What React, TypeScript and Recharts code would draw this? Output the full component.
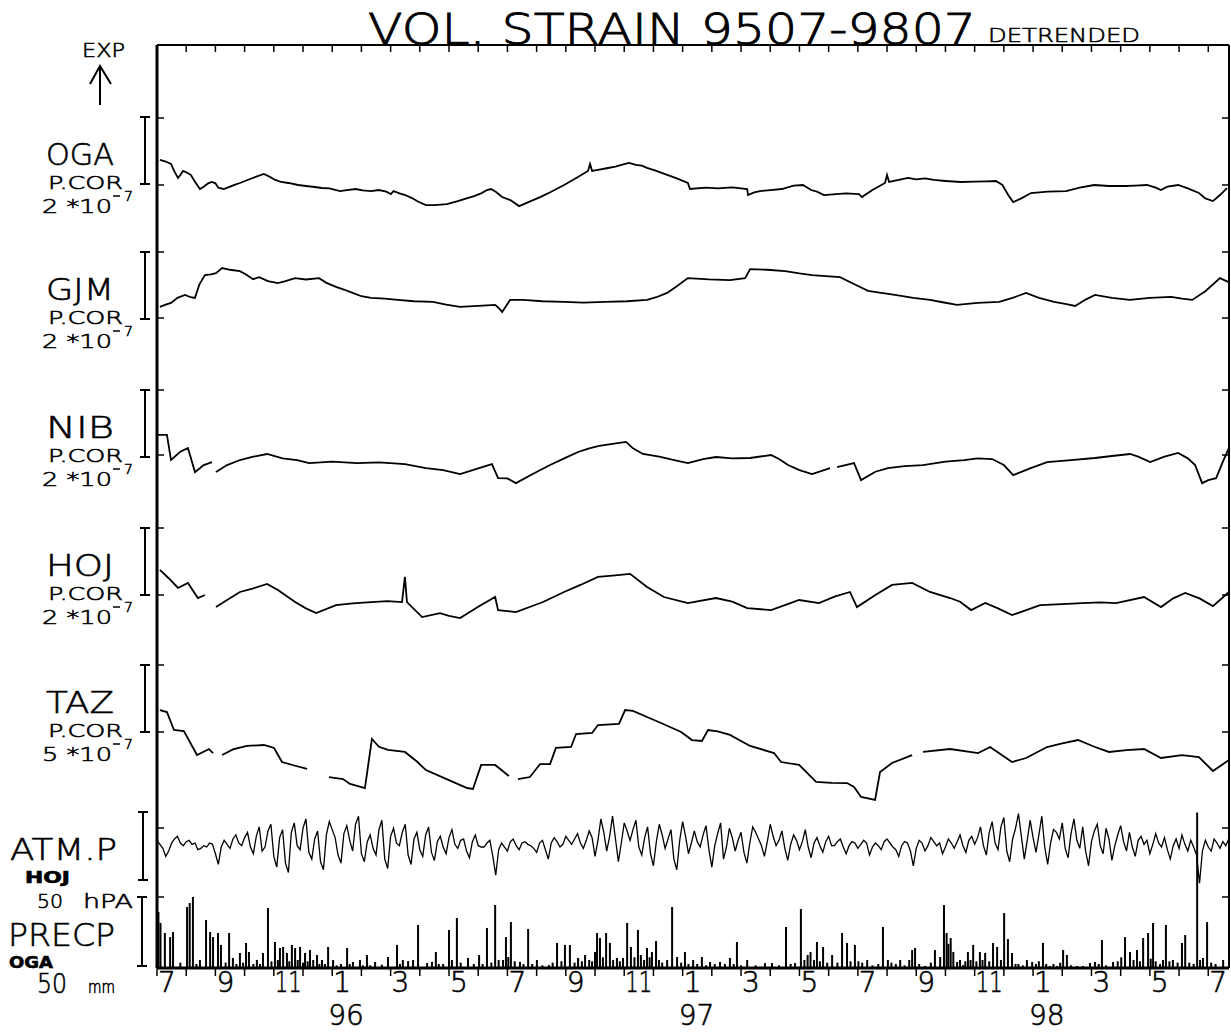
import React from "react";
import { ComposedChart, Line, Bar, XAxis, YAxis } from "recharts";

// x = months since 1 Jul 1995
const monthTicks = [
  0, 1, 2, 3, 4, 5, 6, 7, 8, 9, 10, 11, 12, 13, 14, 15, 16, 17, 18, 19, 20, 21, 22, 23, 24, 25, 26, 27,
  28, 29, 30, 31, 32, 33, 34, 35, 36,
];
const monthLabels = [
  "7", "", "9", "", "11", "", "1", "", "3", "", "5", "", "7", "", "9", "", "11", "", "1", "", "3", "",
  "5", "", "7", "", "9", "", "11", "", "1", "", "3", "", "5", "", "7",
];
const yearTicks = [6, 18, 30];
const yearLabels = ["96", "97", "98"];

// volumetric strain, 1e-7 (null = gap in record)
const oga: [number, number | null][] = [
  [0.1, 0.75], [0.3, 0.7], [0.48, 0.63], [0.6, 0.4], [0.72, 0.21], [0.8, 0.3], [0.89, 0.42], [1.0, 0.38],
  [1.16, 0.3], [1.3, 0.1], [1.47, -0.12], [1.6, -0.05], [1.75, 0.05], [1.88, 0.09], [2.0, 0.05],
  [2.1, -0.08], [2.29, -0.12], [2.5, -0.05], [2.7, 0.02], [2.84, 0.06], [3.1, 0.15], [3.4, 0.25],
  [3.66, 0.33], [3.85, 0.25], [4.05, 0.15], [4.25, 0.09], [4.5, 0.06], [4.83, 0], [5.1, -0.03],
  [5.4, -0.06], [5.65, -0.09], [5.9, -0.1], [6.27, -0.18], [6.5, -0.15], [6.8, -0.12], [7.05, -0.16],
  [7.33, -0.18], [7.6, -0.15], [7.85, -0.2], [8.01, -0.27], [8.1, -0.18], [8.3, -0.25], [8.5, -0.3],
  [8.73, -0.39], [8.95, -0.5], [9.21, -0.6], [9.5, -0.6], [9.93, -0.57], [10.3, -0.48], [10.6, -0.4],
  [10.86, -0.33], [11.1, -0.25], [11.3, -0.15], [11.44, -0.12], [11.6, -0.2], [11.82, -0.36], [12.1, -0.45],
  [12.4, -0.63], [12.7, -0.52], [13.12, -0.36], [13.5, -0.2], [13.94, 0], [14.3, 0.18], [14.76, 0.42],
  [14.83, 0.63], [14.9, 0.42], [15.1, 0.45], [15.4, 0.5], [15.7, 0.55], [16.0, 0.62], [16.16, 0.66],
  [16.4, 0.6], [16.6, 0.58], [16.78, 0.51], [17.1, 0.42], [17.47, 0.3], [17.8, 0.2], [18.18, 0.06],
  [18.25, -0.12], [18.8, -0.08], [19.2, -0.1], [19.7, -0.07], [20.21, -0.12], [20.24, -0.3], [20.45, -0.22],
  [20.65, -0.18], [21.0, -0.15], [21.4, -0.12], [21.8, -0.02], [22.12, 0], [22.4, -0.15], [22.6, -0.2],
  [22.84, -0.3], [23.25, -0.27], [23.6, -0.25], [24.04, -0.27], [24.14, -0.36], [24.5, -0.15],
  [24.93, 0.06], [25.0, 0.3], [25.07, 0.09], [25.4, 0.15], [25.72, 0.21], [26.0, 0.17], [26.3, 0.2],
  [26.6, 0.15], [27.0, 0.12], [27.53, 0.09], [28.0, 0.1], [28.4, 0.11], [28.73, 0.12], [28.95, 0],
  [29.15, -0.3], [29.32, -0.51], [29.6, -0.4], [29.93, -0.24], [30.5, -0.2], [31.13, -0.18], [31.6, -0.08],
  [32.09, 0], [32.6, -0.03], [33.18, -0.03], [33.5, -0.02], [33.9, 0], [34.2, -0.08], [34.38, -0.15],
  [34.6, -0.05], [34.97, 0], [35.3, -0.1], [35.68, -0.24], [35.9, -0.4], [36.16, -0.48], [36.4, -0.3],
  [36.64, -0.09],
];

const gjm: [number, number | null][] = [
  [0.1, 0.33], [0.3, 0.4], [0.48, 0.45], [0.7, 0.6], [0.96, 0.69], [1.15, 0.62], [1.3, 0.6], [1.45, 1.0],
  [1.64, 1.28], [1.85, 1.3], [2.02, 1.34], [2.23, 1.49], [2.5, 1.44], [2.84, 1.4], [3.05, 1.3],
  [3.29, 1.16], [3.5, 1.22], [3.8, 1.1], [4.14, 1.04], [4.4, 1.1], [4.73, 1.19], [5.1, 1.15], [5.55, 1.19],
  [5.8, 1.05], [6.13, 0.93], [6.4, 0.85], [6.7, 0.75], [7.0, 0.65], [7.33, 0.6], [7.8, 0.58], [8.25, 0.54],
  [8.8, 0.5], [9.45, 0.48], [9.9, 0.4], [10.38, 0.33], [11.0, 0.36], [11.58, 0.39], [11.7, 0.3],
  [11.82, 0.18], [12.09, 0.54], [12.53, 0.54], [13.2, 0.5], [13.94, 0.48], [14.6, 0.46], [15.34, 0.48],
  [16.1, 0.5], [16.78, 0.54], [17.1, 0.62], [17.47, 0.75], [17.8, 0.95], [18.18, 1.19], [18.9, 1.15],
  [19.62, 1.13], [20.14, 1.19], [20.31, 1.46], [20.9, 1.44], [21.51, 1.4], [22.0, 1.33], [22.43, 1.28],
  [22.9, 1.25], [23.39, 1.22], [23.9, 1.0], [24.35, 0.81], [24.8, 0.75], [25.27, 0.69], [25.9, 0.6],
  [26.47, 0.54], [26.9, 0.47], [27.4, 0.39], [28.1, 0.45], [28.84, 0.48], [29.3, 0.6], [29.76, 0.75],
  [30.2, 0.6], [30.72, 0.48], [31.1, 0.42], [31.44, 0.36], [31.8, 0.55], [32.12, 0.69], [32.7, 0.6],
  [33.32, 0.54], [34.0, 0.6], [34.73, 0.63], [35.1, 0.58], [35.45, 0.54], [35.9, 0.8], [36.4, 1.19],
  [36.7, 1.07],
];

const nib: [number, number | null][] = [
  [0.02, 0.6], [0.34, 0.6], [0.48, -0.15], [0.8, 0.1], [1.06, 0.21], [1.3, -0.51], [1.6, -0.3],
  [1.88, -0.21], [1.95, null], [2.02, -0.51], [2.4, -0.3], [2.84, -0.15], [3.3, -0.05], [3.77, 0.03],
  [4.3, -0.1], [4.8, -0.15], [5.21, -0.24], [6.0, -0.2], [6.85, -0.24], [7.6, -0.22], [8.49, -0.27],
  [9.21, -0.39], [9.8, -0.45], [10.38, -0.57], [11.0, -0.4], [11.47, -0.27], [11.68, -0.69], [12.0, -0.7],
  [12.29, -0.84], [12.9, -0.55], [13.46, -0.3], [14.0, -0.08], [14.42, 0.09], [14.8, 0.2], [15.14, 0.27],
  [15.6, 0.33], [16.06, 0.39], [16.3, 0.2], [16.64, 0.03], [17.2, -0.05], [17.71, -0.15], [18.18, -0.24],
  [18.7, -0.12], [19.14, -0.06], [19.7, -0.1], [20.31, -0.09], [21.03, 0], [21.3, -0.12], [21.61, -0.3],
  [22.0, -0.45], [22.43, -0.57], [23.05, -0.39], [23.17, null], [23.29, -0.36], [23.87, -0.24],
  [24.11, -0.75], [24.6, -0.5], [25.03, -0.39], [25.6, -0.33], [26.23, -0.3], [27.0, -0.2], [27.64, -0.15],
  [28.1, -0.1], [28.6, -0.12], [29.0, -0.3], [29.32, -0.6], [29.9, -0.4], [30.48, -0.21], [31.3, -0.15],
  [32.12, -0.09], [32.7, -0.03], [33.32, 0.03], [33.6, -0.05], [34.01, -0.21], [34.5, -0.05],
  [34.97, 0.06], [35.3, -0.1], [35.55, -0.3], [35.79, -0.84], [36.0, -0.75], [36.27, -0.69], [36.5, -0.2],
  [36.71, 0.21],
];

const hoj: [number, number | null][] = [
  [0.1, 0.75], [0.4, 0.5], [0.72, 0.21], [1.06, 0.36], [1.4, -0.09], [1.64, 0], [1.83, null],
  [2.02, -0.36], [2.4, -0.15], [2.84, 0.09], [3.3, 0.2], [3.77, 0.33], [4.14, 0.15], [4.73, -0.21],
  [5.1, -0.4], [5.45, -0.54], [6.13, -0.3], [6.7, -0.25], [7.33, -0.21], [7.9, -0.18], [8.39, -0.21],
  [8.49, 0.54], [8.56, -0.21], [9.08, -0.66], [9.69, -0.54], [10.0, -0.62], [10.38, -0.69], [11.0, -0.35],
  [11.58, -0.06], [11.68, -0.45], [12.29, -0.51], [13.22, -0.21], [13.94, 0.09], [14.5, 0.3], [15.1, 0.54],
  [15.6, 0.58], [16.2, 0.63], [16.78, 0.24], [17.36, -0.06], [18.18, -0.24], [19.14, -0.09], [19.7, -0.2],
  [20.21, -0.39], [21.03, -0.45], [21.5, -0.3], [21.99, -0.15], [22.67, -0.24], [23.2, -0.05],
  [23.73, 0.09], [23.97, -0.36], [24.6, 0.0], [25.17, 0.3], [25.86, 0.36], [26.47, 0.09], [27.16, -0.09],
  [27.5, -0.2], [27.88, -0.45], [28.36, -0.24], [28.8, -0.4], [29.28, -0.6], [30.24, -0.3], [31.0, -0.27],
  [31.68, -0.24], [32.3, -0.22], [32.84, -0.24], [33.8, -0.06], [34.38, -0.36], [34.8, -0.1],
  [35.21, 0.06], [35.7, -0.1], [36.16, -0.33], [36.71, 0.09],
];

const taz: [number, number | null][] = [
  [0.1, 1.64], [0.34, 1.49], [0.58, 0.15], [0.92, 0.07], [1.37, -1.72], [1.78, -1.27], [1.92, -1.57],
  [2.05, null], [2.23, -1.72], [2.6, -1.3], [3.08, -1.04], [3.66, -0.97], [4.01, -1.19], [4.28, -2.24],
  [4.7, -2.5], [5.14, -2.76], [5.5, null], [5.89, -3.36], [6.37, -3.51], [6.61, -3.88], [7.12, -4.18],
  [7.36, -0.52], [7.6, -1.1], [7.91, -1.34], [8.49, -1.49], [8.9, -2.2], [9.21, -2.84], [9.9, -3.5],
  [10.62, -4.18], [10.82, -4.25], [11.1, -2.46], [11.58, -2.46], [12.05, -3.28], [12.2, null],
  [12.36, -3.51], [12.77, -3.36], [13.12, -2.39], [13.46, -2.39], [13.66, -1.19], [14.18, -1.12],
  [14.35, -0.15], [14.9, -0.07], [15.1, 0.52], [15.82, 0.6], [16.03, 1.64], [16.3, 1.57], [16.8, 1.1],
  [17.26, 0.67], [17.95, 0], [18.32, -0.6], [18.66, -0.67], [18.87, 0.15], [19.2, 0.05], [19.62, -0.22],
  [20.31, -1.04], [21.13, -1.57], [21.37, -2.24], [21.99, -2.46], [22.57, -3.73], [23.1, -3.8],
  [23.63, -3.81], [23.87, -4.1], [24.11, -4.85], [24.59, -5.07], [24.76, -2.99], [25.17, -2.31],
  [25.86, -1.72], [26.05, null], [26.23, -1.49], [27.16, -1.27], [28.12, -1.57], [28.53, -1.12],
  [29.28, -2.24], [29.76, -1.94], [30.48, -1.12], [31.0, -0.85], [31.54, -0.6], [32.1, -1.1],
  [32.6, -1.49], [33.2, -1.35], [33.8, -1.27], [34.38, -1.94], [35.1, -1.72], [35.68, -1.87],
  [36.16, -2.91], [36.71, -2.09],
];

// HOJ atmospheric pressure, hPa deviation, one value every 0.1 month
const atmStep = 0.1;
const atmValues = [
  2, -1, -4, -10, -6, 0, 3, 5, 0, -2, 1, 2, -1, 0, -5, -4, -2, -3, 0, -1, -8, -16, -3, 2, -1, -4, 3,
  6, 0, -2, 4, 8, -3, -8,
  5, 12, -6, -3, 9, 14, -10, -18, 4, 10, -15, -22, 8, 15, -2, -5, 11, 18, -7, -12, 3, 9, -14, -20, 6,
  16, 10, 4, -9, -15, 7, 13, 2, -6, 14, 20, -8, -14, 1, 6, -4, -9, 10, 17, -12, -19, 5, 11, 0, -2, 8,
  14, -9, -16, 3, 8, -5, -10, 6, 12, -7, -13, 1, 5, -3, -8, 4, 10, -1, -4, 2, 3, -6, -11, 1, 6, -2, -3,
  -3, 0, 2, -10, -24, -5, 0, -3, -6, 1, 3, -2, -5, 0, 1, -1, -2, -4, -7, 0, 2, -5, -12, 0, 4, 1, -3,
  -1, 5, 2, -1, 3, 7, 0, -4, 2, 9, 4,
  -10, 2, 18, 8, -6, 5, 20, 3, -14, 0, 15, 9, 2, 10, 17, -3, -9, 4, 12, -8, -17, 1, 14, 6, -4, 3, 10,
  -12, -20, 2, 16, 5, -8, 0, 9, 1, -3, 6, 13, -5, -18, -2, 7, 15, -12, -3, 11, 4, -6, 2, 8, -7, -15,
  0, 12, 8, 3, -2, -10, 1, 14, 5, -2, 2, 9, -4, -13, -1, 6, 2, -5, 1, 10, -3, -11, 0, 4, -2, -7, 1, 5,
  -2,
  -2, 1, 3, -3, -8, -2, 1, 0, -4, -1, 2, 0, -9, -3, 0, -2, -5, 1, 3, 0, -3, -5, -10, -2, 1, 0, -6, -17,
  -4, 2, 0, -6, -2, 4, 1, -2, 0, -8, -3, 3, 0, -4, 1, 6, -2, -7, 2, 5, -1,
  4, 12, -2, -9, 8, 16, 0, -5, 12, 19, -6, -14, 3, 11, 22, 5, -12, 2, 17, 4, -7, 6, 20, -3, -16, 0, 10,
  8, 3, 15, -4, -11, 7, 18, 2, -4, 12, -6, -17, 1, 9, 14, -2, -8, 11, 3, -13, -2, 6, 13, 1, -6, 8, -3,
  -10, 2, 5, -1, 2, -8, -1, 7, 0, -3, 4, -5, -12, -2, 3, -4, 6, -1, -6, 2, -3, -9, -30, -6, 2, -3, -6,
  3, 0, -4, 1, -2, 3,
];

// OGA daily precipitation, mm
const precp: [number, number][] = [
  [0.05, 41.8], [0.12, 33.6], [0.27, 26.1], [0.45, 23.1], [0.55, 26.9], [0.8, 4], [1.03, 45.5],
  [1.12, 48.5], [1.23, 53], [1.35, 3], [1.47, 6], [1.68, 35.8], [1.82, 26.9], [1.92, 23.1], [2.09, 26.1],
  [2.19, 17.2], [2.35, 4], [2.47, 26.1], [2.6, 7.5], [2.72, 3], [2.84, 11.2], [2.95, 4], [3.05, 18.7],
  [3.15, 11.9], [3.3, 3], [3.42, 6], [3.53, 3], [3.63, 11.2], [3.8, 44.8], [3.92, 5], [4.04, 19.4],
  [4.14, 6], [4.21, 14.9], [4.32, 15.7], [4.45, 11.2], [4.53, 5], [4.62, 17.2], [4.73, 14.9], [4.82, 6],
  [4.9, 15.7], [5.0, 4], [5.07, 11.2], [5.16, 5], [5.24, 13.4], [5.35, 6], [5.48, 9.7], [5.56, 3],
  [5.65, 6], [5.75, 3], [5.86, 15.7], [6.03, 6], [6.15, 2], [6.3, 3], [6.51, 14.9], [6.6, 3],
  [6.71, 4.5], [6.95, 6], [7.05, 2], [7.19, 9.7], [7.3, 2], [7.47, 4.5], [7.7, 2.5], [7.91, 8.2],
  [8.22, 17.2], [8.32, 3], [8.42, 6], [8.6, 5.2], [8.77, 6], [8.94, 32.1], [9.25, 3.7], [9.42, 4.5],
  [9.55, 11.9], [9.65, 3], [9.8, 3], [10.0, 28.4], [10.1, 6], [10.27, 37.3], [10.4, 4], [10.65, 7.5],
  [10.85, 3], [11.03, 9.7], [11.15, 3], [11.3, 29.9], [11.45, 4], [11.58, 47], [11.7, 6], [11.85, 6],
  [11.95, 23.1], [12.03, 8.2], [12.12, 34.3], [12.25, 5], [12.43, 4.5], [12.55, 3], [12.71, 29.1],
  [12.85, 3], [13.01, 6], [13.2, 2], [13.42, 2.2], [13.55, 4], [13.7, 18.7], [13.85, 5], [13.97, 17.2],
  [14.14, 17.2], [14.3, 4], [14.42, 7.5], [14.55, 5], [14.66, 9.7], [14.8, 6], [14.9, 5], [15.0, 12],
  [15.07, 26.1], [15.17, 22.4], [15.27, 8], [15.38, 26.1], [15.51, 18.7], [15.62, 6], [15.75, 7.5],
  [15.85, 5], [15.96, 7.5], [16.1, 33.6], [16.23, 15.7], [16.35, 8], [16.47, 28.4], [16.57, 9.7],
  [16.68, 6], [16.78, 14.9], [16.87, 8], [16.95, 11.9], [17.09, 20.1], [17.19, 6], [17.3, 4],
  [17.47, 6], [17.64, 45.5], [17.81, 8.2], [17.95, 4], [18.08, 11.9], [18.2, 3], [18.36, 6], [18.5, 3],
  [18.66, 8.2], [18.8, 2], [18.94, 4.5], [19.1, 3], [19.28, 4.5], [19.45, 3], [19.62, 7.5], [19.75, 3],
  [19.86, 19.4], [20.0, 2], [20.21, 6], [20.5, 2], [20.82, 3.7], [21.06, 3.7], [21.3, 2], [21.54, 30.6],
  [21.7, 3], [21.85, 3.7], [22.05, 44], [22.17, 6], [22.28, 9.7], [22.38, 11.9], [22.5, 6], [22.6, 19.4],
  [22.7, 5], [22.81, 15.7], [22.95, 4], [23.12, 9.7], [23.3, 4], [23.46, 26.1], [23.63, 18.7],
  [23.75, 5], [23.9, 17.2], [24.02, 5], [24.15, 4], [24.32, 6], [24.5, 2], [24.7, 3], [24.86, 30.6],
  [25.03, 6], [25.15, 4], [25.3, 3], [25.45, 6], [25.6, 2], [25.76, 6], [25.86, 13.4], [25.96, 14.9],
  [26.1, 3], [26.3, 1.5], [26.5, 4], [26.64, 13.4], [26.82, 8.2], [26.95, 47], [27.04, 26.1], [27.1, 18],
  [27.18, 22.4], [27.27, 12], [27.4, 4.5], [27.5, 6], [27.6, 2.2], [27.68, 5], [27.77, 11.9],
  [27.86, 6], [27.95, 17.2], [28.06, 5], [28.18, 11.9], [28.27, 6], [28.36, 11.2], [28.5, 5],
  [28.63, 18.7], [28.77, 15.7], [28.9, 6], [29.01, 41], [29.14, 21.6], [29.28, 11.2], [29.4, 3],
  [29.5, 3], [29.65, 2], [29.79, 6], [29.97, 4.5], [30.1, 3], [30.2, 5], [30.34, 18.7], [30.45, 3],
  [30.58, 1.5], [30.7, 3], [30.82, 1.5], [30.93, 4], [31.03, 13.4], [31.16, 9.7], [31.3, 2], [31.5, 1.5],
  [31.71, 1.5], [31.95, 3.7], [32.12, 4.5], [32.25, 3], [32.36, 20.9], [32.5, 2], [32.74, 4.5],
  [32.9, 5], [33.02, 8], [33.15, 23.1], [33.32, 11.9], [33.44, 6], [33.56, 13.4], [33.66, 5],
  [33.77, 22.4], [33.94, 26.1], [34.03, 7], [34.11, 33.6], [34.2, 5], [34.35, 3], [34.45, 6],
  [34.55, 32.1], [34.67, 5], [34.79, 6], [34.95, 4], [35.1, 18.7], [35.21, 24.6], [35.35, 4], [35.5, 3],
  [35.62, 116], [35.72, 6], [35.82, 7.5], [35.96, 34.3], [36.1, 4], [36.25, 3], [36.51, 6],
];

const PLOT_TOP = 45;
const PLOT_BOTTOM = 968;
const PLOT_LEFT = 157;
const PLOT_RIGHT = 1229;
const X_MAX = 36.71;

// band placement: value 0 sits at page y = zeroY, scale taken from the scale bars
const bandDomain = (zeroY: number, pxPerUnit: number): [number, number] => [
  -(PLOT_BOTTOM - zeroY) / pxPerUnit,
  (zeroY - PLOT_TOP) / pxPerUnit,
];

const toData = (rows: [number, number | null][]) => rows.map(([m, v]) => ({ m, v }));

const strainPanels = [
  { id: "oga", rows: oga, zeroY: 185, pxPerUnit: 33.5 },
  { id: "gjm", rows: gjm, zeroY: 318, pxPerUnit: 33.5 },
  { id: "nib", rows: nib, zeroY: 455, pxPerUnit: 33.5 },
  { id: "hoj", rows: hoj, zeroY: 595, pxPerUnit: 33.5 },
  { id: "taz", rows: taz, zeroY: 732, pxPerUnit: 13.4 },
];

const atmData = atmValues.map((v, i) => ({ m: i * atmStep, v }));
const precpData = precp.map(([m, mm]) => ({ m, mm }));

const frameTicks = [118, 185, 252, 318, 390, 455, 528, 595, 665, 732, 828, 897];

const FONT = "'DejaVu Sans', 'Liberation Sans', sans-serif";
const W = 200; // thin plotter-pen look
const PEN = { stroke: "#000", strokeWidth: 0.6 };

const EmptyTick = () => <g />;

const MonthTick = (props: any) => {
  const { x, payload } = props;
  const i = monthTicks.indexOf(payload.value);
  const label = monthLabels[i];
  const yi = yearTicks.indexOf(payload.value);
  return (
    <g fontFamily={FONT} fontWeight={W} fill="#000" {...PEN}>
      {label ? (
        <text
          x={x + 1}
          y={992}
          fontSize={28}
          textAnchor="start"
          {...(label.length > 1 ? { textLength: 27, lengthAdjust: "spacingAndGlyphs" } : {})}
        >
          {label}
        </text>
      ) : null}
      {yi >= 0 ? (
        <text x={x - 4} y={1025} fontSize={28} textAnchor="start">
          {yearLabels[yi]}
        </text>
      ) : null}
    </g>
  );
};

// precipitation drawn as thin pen strokes
const PrecpStroke = (props: any) => {
  const { x, y, width, height } = props;
  if (!height || height <= 0) return <g />;
  return <rect x={x + width / 2 - 1} y={y} width={2} height={height} fill="#000" />;
};

const ScaleBar = ({ x, y1, y2 }: { x: number; y1: number; y2: number }) => (
  <g stroke="#000" strokeWidth={2}>
    <line x1={x} y1={y1} x2={x} y2={y2} />
    <line x1={x - 5} y1={y1} x2={x + 5} y2={y1} />
    <line x1={x - 5} y1={y2} x2={x + 5} y2={y2} />
  </g>
);

const strainLabels = [
  { name: "OGA", top: 117, factor: "2" },
  { name: "GJM", top: 252, factor: "2" },
  { name: "NIB", top: 390, factor: "2" },
  { name: "HOJ", top: 528, factor: "2" },
  { name: "TAZ", top: 665, factor: "5" },
];

const Labels = () => (
  <svg
    width={1231}
    height={1035}
    style={{ position: "absolute", left: 0, top: 0, pointerEvents: "none" }}
    fontFamily={FONT}
    fontWeight={W}
  >
    <g {...PEN}>
      <text x={368} y={44} fontSize={43} textLength={608} lengthAdjust="spacingAndGlyphs" strokeWidth={0.9}>
        VOL. STRAIN 9507-9807
      </text>
      <text x={988} y={42} fontSize={20} textLength={152} lengthAdjust="spacingAndGlyphs">
        DETRENDED
      </text>
      <text x={82} y={57} fontSize={19} textLength={43} lengthAdjust="spacingAndGlyphs">
        EXP
      </text>
      {strainLabels.map((p) => (
        <g key={p.name}>
          <text x={46} y={p.top + 48} fontSize={30} textLength={68} lengthAdjust="spacingAndGlyphs">
            {p.name}
          </text>
          <text x={48} y={p.top + 72} fontSize={18} textLength={75} lengthAdjust="spacingAndGlyphs">
            P.COR
          </text>
          <text x={42} y={p.top + 96} fontSize={20} textLength={70} lengthAdjust="spacingAndGlyphs">
            {`${p.factor} *10`}
          </text>
          <text x={124} y={p.top + 84} fontSize={14}>
            7
          </text>
        </g>
      ))}
      <text x={10} y={860} fontSize={31} textLength={107} lengthAdjust="spacingAndGlyphs">
        ATM.P
      </text>
      <text x={25} y={883} fontSize={15} fontWeight="bold" textLength={45} lengthAdjust="spacingAndGlyphs">
        HOJ
      </text>
      <text x={37} y={908} fontSize={20} textLength={26} lengthAdjust="spacingAndGlyphs">
        50
      </text>
      <text x={83} y={908} fontSize={20} textLength={50} lengthAdjust="spacingAndGlyphs">
        hPA
      </text>
      <text x={8} y={946} fontSize={32} textLength={107} lengthAdjust="spacingAndGlyphs">
        PRECP
      </text>
      <text x={9} y={968} fontSize={16} fontWeight="bold" textLength={44} lengthAdjust="spacingAndGlyphs">
        OGA
      </text>
      <text x={37} y={993} fontSize={26} textLength={30} lengthAdjust="spacingAndGlyphs">
        50
      </text>
      <text x={88} y={993} fontSize={17} textLength={27} lengthAdjust="spacingAndGlyphs">
        mm
      </text>
    </g>
    <g stroke="#000" strokeWidth={2} fill="none">
      <line x1={100} y1={105} x2={100} y2={66} />
      <polyline points="90,84 100,66 111,84" />
    </g>
    {strainLabels.map((p) => (
      <g key={p.name}>
        <line x1={113} y1={p.top + 79} x2={120} y2={p.top + 79} stroke="#000" strokeWidth={1.5} />
        <ScaleBar x={145} y1={p.top} y2={p.top + 67} />
      </g>
    ))}
    <ScaleBar x={143} y1={812} y2={880} />
    <ScaleBar x={142} y1={897} y2={966} />
  </svg>
);

export default function App() {
  return (
    <div style={{ position: "absolute", left: 0, top: 0, width: 1231, height: 1035, background: "#fff" }}>
      <ComposedChart
        width={1231}
        height={1035}
        data={precpData}
        margin={{ top: PLOT_TOP, left: PLOT_LEFT, right: 1231 - PLOT_RIGHT, bottom: 1035 - PLOT_BOTTOM - 60 }}
        style={{ fontFamily: FONT }}
      >
        <XAxis
          xAxisId="b"
          dataKey="m"
          type="number"
          domain={[0, X_MAX]}
          allowDataOverflow
          ticks={monthTicks}
          interval={0}
          height={60}
          tickSize={8}
          axisLine={{ stroke: "#000", strokeWidth: 3 }}
          tickLine={{ stroke: "#000", strokeWidth: 1.5 }}
          tick={<MonthTick />}
        />
        <XAxis
          xAxisId="top"
          dataKey="m"
          type="number"
          orientation="top"
          mirror
          height={1}
          domain={[0, X_MAX]}
          allowDataOverflow
          ticks={monthTicks}
          interval={0}
          tickSize={7}
          axisLine={{ stroke: "#000", strokeWidth: 2 }}
          tickLine={{ stroke: "#000", strokeWidth: 1.5 }}
          tick={<EmptyTick />}
        />
        <YAxis
          yAxisId="frameL"
          type="number"
          orientation="left"
          mirror
          width={1}
          reversed
          domain={[PLOT_TOP, PLOT_BOTTOM]}
          allowDataOverflow
          ticks={frameTicks}
          interval={0}
          tickSize={7}
          axisLine={{ stroke: "#000", strokeWidth: 3 }}
          tickLine={{ stroke: "#000", strokeWidth: 1.5 }}
          tick={<EmptyTick />}
        />
        <YAxis
          yAxisId="frameR"
          type="number"
          orientation="right"
          mirror
          width={1}
          reversed
          domain={[PLOT_TOP, PLOT_BOTTOM]}
          allowDataOverflow
          ticks={frameTicks}
          interval={0}
          tickSize={7}
          axisLine={{ stroke: "#000", strokeWidth: 2 }}
          tickLine={{ stroke: "#000", strokeWidth: 1.5 }}
          tick={<EmptyTick />}
        />
        {strainPanels.map((p) => (
          <YAxis
            key={p.id}
            yAxisId={p.id}
            type="number"
            hide
            domain={bandDomain(p.zeroY, p.pxPerUnit)}
            allowDataOverflow
          />
        ))}
        <YAxis yAxisId="atm" type="number" hide domain={bandDomain(843, 1.34)} allowDataOverflow />
        <YAxis yAxisId="precp" type="number" hide domain={bandDomain(PLOT_BOTTOM, 1.34)} allowDataOverflow />

        <Bar
          dataKey="mm"
          xAxisId="b"
          yAxisId="precp"
          barSize={2}
          fill="#000"
          shape={<PrecpStroke />}
          isAnimationActive={false}
        />
        {strainPanels.map((p) => (
          <Line
            key={p.id}
            data={toData(p.rows)}
            dataKey="v"
            xAxisId="b"
            yAxisId={p.id}
            type="linear"
            stroke="#000"
            strokeWidth={1.8}
            dot={false}
            activeDot={false}
            connectNulls={false}
            isAnimationActive={false}
          />
        ))}
        <Line
          data={atmData}
          dataKey="v"
          xAxisId="b"
          yAxisId="atm"
          type="linear"
          stroke="#000"
          strokeWidth={1.3}
          dot={false}
          activeDot={false}
          isAnimationActive={false}
        />
      </ComposedChart>
      <Labels />
    </div>
  );
}
